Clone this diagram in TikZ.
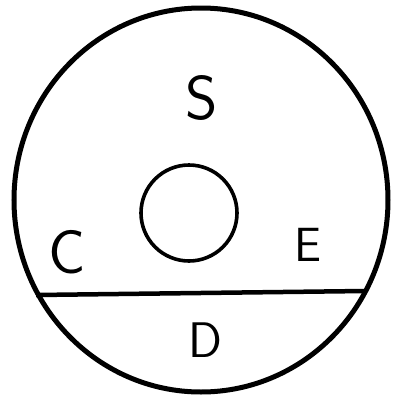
\documentclass[tikz,border=0pt]{standalone}
\begin{document}
\begin{tikzpicture}[
        x=1pt, y=-1pt,
        rim/.style={
            draw=black,
            line width=5pt
        },
        hole/.style={
            draw=black,
            line width=3.6pt
        },
        chordline/.style={
            draw=black,
            line width=4.5pt
        },
        letter/.style={
            font=\sffamily,
            inner sep=0pt
        }
    ]

    \useasboundingbox (0,0) rectangle (394,400);

    % ---------------------------------------------------------
    % Outer rim and inner hole
    % ---------------------------------------------------------
    \draw[rim] (201,200) ellipse [x radius=187, y radius=192];
    \draw[hole] (189,213) circle [radius=48];

    % ---------------------------------------------------------
    % Chord across the lower part
    % ---------------------------------------------------------
    \coordinate (chordL) at (36,295);
    \coordinate (chordR) at (365,291);
    \draw[chordline] (chordL) -- (chordR);

    % ---------------------------------------------------------
    % Letters
    % ---------------------------------------------------------
    \node[letter, font=\fontsize{62}{62}\sffamily] (labS) at (202,98) {S};
    \node[letter, font=\fontsize{62}{62}\sffamily] (labC) at (67,252) {C};
    \node[letter, font=\fontsize{48}{48}\sffamily] (labE) at (308,245) {E};
    \node[letter, font=\fontsize{50}{50}\sffamily] (labD) at (205,340) {D};

\end{tikzpicture}
\end{document}
